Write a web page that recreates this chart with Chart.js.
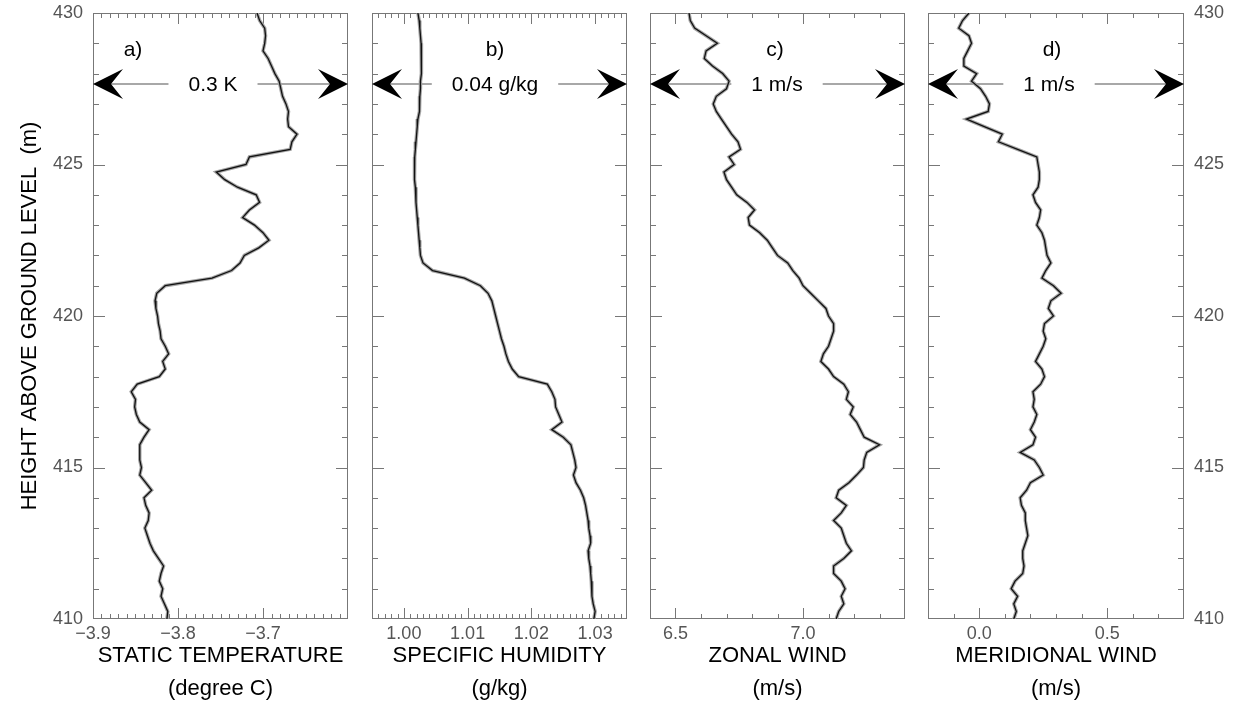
<!DOCTYPE html>
<html>
<head>
<meta charset="utf-8">
<script src="https://cdn.jsdelivr.net/npm/chart.js@4.4.1/dist/chart.umd.min.js"></script>
<style>
html, body { margin: 0; padding: 0; background: #fff; }
#wrap { position: relative; width: 1238px; height: 709px; }
#wrap canvas { position: absolute; left: 0; top: 0; }
</style>
</head>
<body>
<div id="wrap">
  <canvas id="pa" width="1238" height="709"></canvas>
  <canvas id="pb" width="1238" height="709"></canvas>
  <canvas id="pc" width="1238" height="709"></canvas>
  <canvas id="pd" width="1238" height="709"></canvas>
</div>
<script>
// heights (m), top to bottom
const heights = [430, 429.75, 429.5, 429.25, 429, 428.75, 428.5, 428.25, 428, 427.75,
  427.5, 427.25, 427, 426.75, 426.5, 426.25, 426, 425.75, 425.5, 425.25,
  425, 424.75, 424.5, 424.25, 424, 423.75, 423.5, 423.25, 423, 422.75,
  422.5, 422.25, 422, 421.75, 421.5, 421.25, 421, 420.75, 420.5, 420.25,
  420, 419.75, 419.5, 419.25, 419, 418.75, 418.5, 418.25, 418, 417.75,
  417.5, 417.25, 417, 416.75, 416.5, 416.25, 416, 415.75, 415.5, 415.25,
  415, 414.75, 414.5, 414.25, 414, 413.75, 413.5, 413.25, 413, 412.75,
  412.5, 412.25, 412, 411.75, 411.5, 411.25, 411, 410.75, 410.5, 410.25, 410];

// static temperature (degree C)
const temperature = [-3.707, -3.704, -3.698, -3.697, -3.698, -3.700, -3.694, -3.690, -3.686, -3.681,
  -3.679, -3.677, -3.673, -3.670, -3.671, -3.670, -3.660, -3.666, -3.668, -3.716,
  -3.720, -3.755, -3.745, -3.730, -3.708, -3.704, -3.716, -3.724, -3.710, -3.700,
  -3.693, -3.705, -3.722, -3.727, -3.737, -3.760, -3.815, -3.825, -3.827, -3.826,
  -3.824, -3.823, -3.821, -3.820, -3.815, -3.811, -3.818, -3.815, -3.822, -3.848,
  -3.855, -3.850, -3.851, -3.849, -3.845, -3.834, -3.840, -3.845, -3.845, -3.845,
  -3.843, -3.845, -3.838, -3.831, -3.840, -3.838, -3.834, -3.835, -3.839, -3.836,
  -3.833, -3.829, -3.823, -3.817, -3.820, -3.822, -3.818, -3.820, -3.816, -3.812, -3.813];

// specific humidity (g/kg)
const humidity = [1.0022, 1.0024, 1.0025, 1.0026, 1.0027, 1.0028, 1.0028, 1.0027, 1.0027, 1.0026,
  1.0026, 1.0025, 1.0025, 1.0024, 1.0022, 1.0021, 1.0020, 1.0019, 1.0018, 1.0017,
  1.0017, 1.0016, 1.0017, 1.0018, 1.0019, 1.0019, 1.0020, 1.0021, 1.0022, 1.0023,
  1.0024, 1.0025, 1.0026, 1.0030, 1.0045, 1.0095, 1.0120, 1.0132, 1.0138, 1.0141,
  1.0144, 1.0147, 1.0150, 1.0153, 1.0157, 1.0160, 1.0164, 1.0170, 1.0180, 1.0225,
  1.0232, 1.0237, 1.0238, 1.0243, 1.0248, 1.0232, 1.0250, 1.0262, 1.0265, 1.0268,
  1.0270, 1.0266, 1.0270, 1.0277, 1.0282, 1.0285, 1.0287, 1.0289, 1.0290, 1.0292,
  1.0293, 1.0289, 1.0290, 1.0292, 1.0293, 1.0294, 1.0295, 1.0295, 1.0297, 1.0300, 1.0298];

// zonal wind (m/s)
const zonal = [6.553, 6.558, 6.575, 6.620, 6.664, 6.620, 6.613, 6.645, 6.685, 6.710,
  6.700, 6.660, 6.648, 6.660, 6.680, 6.700, 6.720, 6.745, 6.755, 6.710,
  6.730, 6.690, 6.700, 6.720, 6.740, 6.780, 6.810, 6.785, 6.790, 6.830,
  6.860, 6.880, 6.900, 6.940, 6.960, 6.985, 7.000, 7.030, 7.060, 7.090,
  7.100, 7.120, 7.120, 7.110, 7.100, 7.080, 7.070, 7.100, 7.120, 7.160,
  7.178, 7.170, 7.197, 7.185, 7.210, 7.225, 7.240, 7.300, 7.250, 7.240,
  7.237, 7.210, 7.180, 7.140, 7.130, 7.170, 7.150, 7.120, 7.150, 7.160,
  7.170, 7.190, 7.160, 7.120, 7.120, 7.150, 7.165, 7.150, 7.160, 7.140, 7.130];

// meridional wind (m/s)
const meridional = [-0.040, -0.065, -0.080, -0.040, -0.030, -0.045, -0.060, -0.060, -0.010, -0.030,
  0.005, 0.025, 0.040, 0.035, -0.050, 0.020, 0.090, 0.075, 0.150, 0.225,
  0.230, 0.235, 0.235, 0.230, 0.210, 0.220, 0.240, 0.235, 0.225, 0.245,
  0.255, 0.260, 0.265, 0.280, 0.260, 0.245, 0.290, 0.320, 0.280, 0.270,
  0.290, 0.255, 0.250, 0.260, 0.250, 0.235, 0.220, 0.245, 0.255, 0.240,
  0.210, 0.215, 0.210, 0.225, 0.215, 0.200, 0.220, 0.210, 0.160, 0.215,
  0.235, 0.250, 0.200, 0.185, 0.160, 0.165, 0.180, 0.180, 0.185, 0.190,
  0.180, 0.170, 0.170, 0.175, 0.170, 0.140, 0.125, 0.150, 0.135, 0.145, 0.135];

// tick labels
const ticksHeight = [410, 415, 420, 425, 430];
const ticksTemperature = [-3.9, -3.8, -3.7];
const ticksHumidity = [1.00, 1.01, 1.02, 1.03];
const ticksZonal = [6.5, 7.0];
const ticksMeridional = [0.0, 0.5];

const FONT = '"Liberation Sans", Arial, Helvetica, sans-serif';
const W = 1238;

const panels = [
  { id: 'pa', values: temperature, min: -3.9, max: -3.6, left: 93, right: 348,
    minor: 0.01, major: 0.1, ticks: ticksTemperature, digits: 1,
    tag: 'a)', tagX: 40, note: '0.3 K', noteX: 120, yAxis: 'left',
    title: ['STATIC TEMPERATURE', '(degree C)'] },
  { id: 'pb', values: humidity, min: 0.995, max: 1.035, left: 372, right: 627,
    minor: 0.001, major: 0.01, ticks: ticksHumidity, digits: 2,
    tag: 'b)', tagX: 123, note: '0.04 g/kg', noteX: 123, yAxis: null,
    title: ['SPECIFIC HUMIDITY', '(g/kg)'] },
  { id: 'pc', values: zonal, min: 6.4, max: 7.4, left: 650, right: 905,
    minor: 0.1, major: 0.5, ticks: ticksZonal, digits: 1,
    tag: 'c)', tagX: 125, note: '1 m/s', noteX: 127, yAxis: null,
    title: ['ZONAL WIND', '(m/s)'] },
  { id: 'pd', values: meridional, min: -0.2, max: 0.8, left: 928, right: 1184,
    minor: 0.1, major: 0.5, ticks: ticksMeridional, digits: 1,
    tag: 'd)', tagX: 124, note: '1 m/s', noteX: 121, yAxis: 'right',
    title: ['MERIDIONAL WIND', '(m/s)'] }
];

function fmt(v, digits) {
  return (v < 0 ? '\u2212' : '') + Math.abs(v).toFixed(digits);
}

function framePlugin(p) {
  return {
    id: 'frame' + p.id,
    beforeDatasetsDraw(chart) {
      const { ctx, chartArea: a, scales: { x, y } } = chart;
      ctx.save();
      ctx.strokeStyle = '#777';
      ctx.lineWidth = 1;
      ctx.strokeRect(a.left + 0.5, a.top + 0.5, a.right - a.left - 1, a.bottom - a.top - 1);

      ctx.beginPath();
      const n = Math.round((p.max - p.min) / p.minor);
      for (let i = 1; i < n; i++) {
        const v = p.min + i * p.minor;
        const r = v / p.major;
        const len = Math.abs(r - Math.round(r)) < 1e-6 ? 11 : 5;
        const px = Math.round(x.getPixelForValue(v)) + 0.5;
        ctx.moveTo(px, a.bottom); ctx.lineTo(px, a.bottom - len);
        ctx.moveTo(px, a.top); ctx.lineTo(px, a.top + len);
      }
      for (let h = 411; h < 430; h++) {
        const len = h % 5 === 0 ? 12 : 6;
        const py = Math.round(y.getPixelForValue(h)) + 0.5;
        ctx.moveTo(a.left, py); ctx.lineTo(a.left + len, py);
        ctx.moveTo(a.right, py); ctx.lineTo(a.right - len, py);
      }
      ctx.stroke();

      // scale arrow and panel letter
      const ay = a.top + 71;
      ctx.font = '21px ' + FONT;
      ctx.fillStyle = '#000';
      ctx.textAlign = 'center';
      ctx.textBaseline = 'middle';
      ctx.fillText(p.tag, a.left + p.tagX, a.top + 37);
      const tw = ctx.measureText(p.note).width;
      const tx = a.left + p.noteX;
      ctx.fillText(p.note, tx, ay + 1);

      ctx.strokeStyle = '#8c8c8c';
      ctx.lineWidth = 1.5;
      ctx.beginPath();
      ctx.moveTo(a.left + 18, ay); ctx.lineTo(tx - tw / 2 - 20, ay);
      ctx.moveTo(tx + tw / 2 + 20, ay); ctx.lineTo(a.right - 18, ay);
      ctx.stroke();

      ctx.fillStyle = '#000';
      ctx.beginPath();
      ctx.moveTo(a.left, ay); ctx.lineTo(a.left + 30, ay - 15);
      ctx.lineTo(a.left + 18, ay); ctx.lineTo(a.left + 30, ay + 15);
      ctx.closePath();
      ctx.moveTo(a.right, ay); ctx.lineTo(a.right - 30, ay - 15);
      ctx.lineTo(a.right - 18, ay); ctx.lineTo(a.right - 30, ay + 15);
      ctx.closePath();
      ctx.fill();
      ctx.restore();
    }
  };
}

function makeChart(p) {
  const ctx = document.getElementById(p.id).getContext('2d');
  const pts = heights.map((h, i) => ({ x: p.values[i], y: h }));
  const yScale = {
    type: 'linear', min: 410, max: 430,
    display: p.yAxis !== null,
    position: p.yAxis || 'left',
    grid: { display: false, drawTicks: false },
    border: { display: false },
    afterBuildTicks: s => { s.ticks = ticksHeight.map(v => ({ value: v })); },
    afterFit: s => {
      if (p.yAxis === 'left') s.width = p.left;
      else if (p.yAxis === 'right') s.width = W - p.right;
      else s.width = 0;
      s.paddingTop = 0;
      s.paddingBottom = 0;
    },
    ticks: { font: { family: FONT, size: 18 }, color: '#555', padding: 10, autoSkip: false },
    title: {
      display: p.yAxis === 'left',
      text: 'HEIGHT ABOVE GROUND LEVEL  (m)',
      font: { family: FONT, size: 22, lineHeight: 1.2 },
      color: '#000',
      padding: { top: 17, bottom: 0 }
    }
  };
  return new Chart(ctx, {
    type: 'scatter',
    data: {
      datasets: [
        { data: pts, showLine: true, borderColor: '#111', borderWidth: 1.3, pointRadius: 0, order: 0 },
        { data: pts, showLine: true, borderColor: '#a6a6a6', borderWidth: 3.5, pointRadius: 0, order: 1 }
      ]
    },
    options: {
      responsive: false,
      animation: false,
      events: [],
      layout: {
        padding: {
          left: p.yAxis === 'left' ? 0 : p.left,
          right: p.yAxis === 'right' ? 0 : W - p.right,
          top: 13, bottom: 0
        }
      },
      plugins: { legend: { display: false }, tooltip: { enabled: false } },
      scales: {
        x: {
          type: 'linear', min: p.min, max: p.max, position: 'bottom',
          grid: { display: false, drawTicks: false },
          border: { display: false },
          afterBuildTicks: s => { s.ticks = p.ticks.map(v => ({ value: v })); },
          afterFit: s => { s.height = 90; s.paddingLeft = 0; s.paddingRight = 0; },
          ticks: {
            callback: v => fmt(v, p.digits),
            font: { family: FONT, size: 18 }, color: '#555',
            padding: 4, maxRotation: 0, autoSkip: false
          },
          title: {
            display: true, text: p.title,
            font: { family: FONT, size: 22, lineHeight: 1.5 },
            color: '#000',
            padding: { top: 0, bottom: 4 }
          }
        },
        y: yScale
      }
    },
    plugins: [framePlugin(p)]
  });
}

panels.forEach(makeChart);
</script>
</body>
</html>
